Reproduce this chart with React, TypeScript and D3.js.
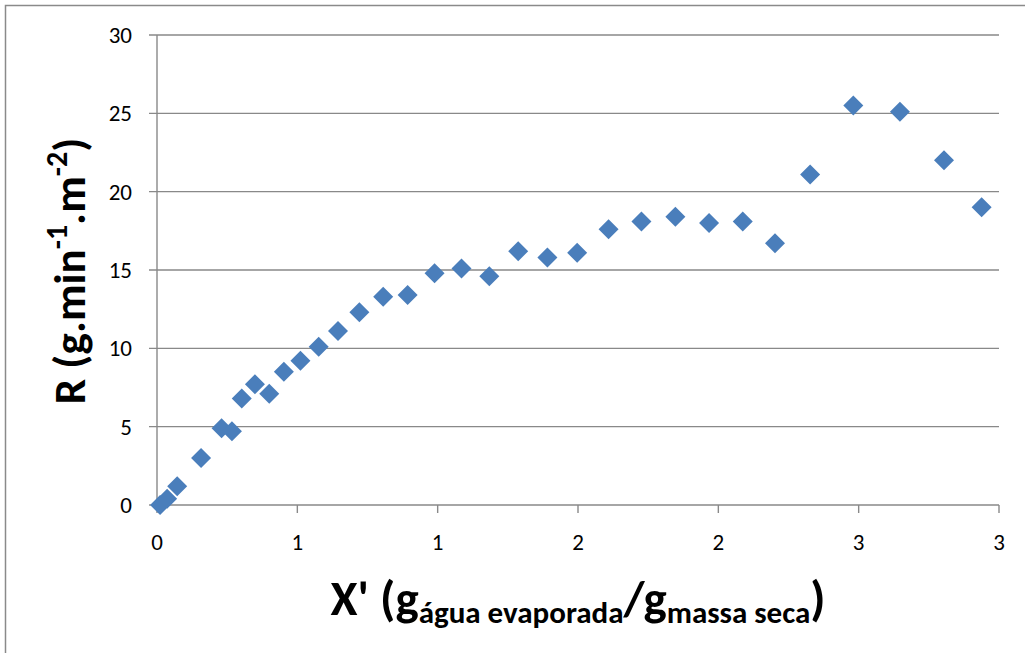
import React from 'react';
import * as d3 from 'd3';

// X' (g água evaporada / g massa seca)
const xValues = [
    0.011, 0.036, 0.072, 0.157, 0.23, 0.267, 0.302, 0.349, 0.4, 0.452,
    0.511, 0.576, 0.645, 0.721, 0.806, 0.893, 0.989, 1.085, 1.184, 1.287,
    1.391, 1.497, 1.609, 1.726, 1.847, 1.967, 2.087, 2.202, 2.327, 2.481,
    2.647, 2.804, 2.938
];
// R (g.min-1.m-2)
const rValues = [
    0.0, 0.4, 1.2, 3.0, 4.9, 4.7, 6.8, 7.7, 7.1, 8.5,
    9.2, 10.1, 11.1, 12.3, 13.3, 13.4, 14.8, 15.1, 14.6, 16.2,
    15.8, 16.1, 17.6, 18.1, 18.4, 18.0, 18.1, 16.7, 21.1, 25.5,
    25.1, 22.0, 19.0
];
const xTicks = [0, 0.5, 1, 1.5, 2, 2.5, 3];
const yTicks = [0, 5, 10, 15, 20, 25, 30];

const W = 1025;
const H = 653;
const plot = { left: 157, right: 999, top: 35, bottom: 505 };
const font = 'Carlito, Calibri, Lato, sans-serif';
const gridColor = '#898989';
const markerColor = '#4a7ebb';

export default function App() {
    const x = d3.scaleLinear().domain([0, 3]).range([plot.left, plot.right]);
    const y = d3.scaleLinear().domain([0, 30]).range([plot.bottom, plot.top]);
    const fmt = (v: number) => d3.format('.0f')(v);
    const diamond = (r: number) => `M0,${-r}L${r},0L0,${r}L${-r},0Z`;

    return (
        <svg width={W} height={H} style={{ position: 'absolute', left: 0, top: 0, background: '#fff' }}>
            <rect x={5.5} y={5.5} width={W + 10} height={H + 10} fill="#fff" stroke="#8a8a8a" strokeWidth={1.5} />

            {yTicks.map(t => (
                <g key={'y' + t}>
                    {t > 0 && (
                        <line x1={plot.left - 8} x2={plot.right} y1={y(t)} y2={y(t)} stroke={gridColor} strokeWidth={1.4} />
                    )}
                    {t === 0 && (
                        <line x1={plot.left - 8} x2={plot.left} y1={y(t)} y2={y(t)} stroke={gridColor} strokeWidth={1.4} />
                    )}
                    <text x={132} y={y(t)} dy="0.35em" textAnchor="end" fontFamily={font} fontSize={23} fill="#000">
                        {t}
                    </text>
                </g>
            ))}

            <line x1={plot.left} x2={plot.left} y1={plot.top} y2={plot.bottom} stroke={gridColor} strokeWidth={1.4} />
            <line x1={plot.left} x2={plot.right} y1={plot.bottom} y2={plot.bottom} stroke={gridColor} strokeWidth={1.4} />

            {xTicks.map(t => (
                <g key={'x' + t}>
                    <line x1={x(t)} x2={x(t)} y1={plot.bottom} y2={plot.bottom + 8} stroke={gridColor} strokeWidth={1.4} />
                    <text x={x(t)} y={550} textAnchor="middle" fontFamily={font} fontSize={23} fill="#000">
                        {fmt(t)}
                    </text>
                </g>
            ))}

            {xValues.map((v, i) => (
                <path key={i} d={diamond(10)} transform={`translate(${x(v)},${y(rValues[i])})`} fill={markerColor} />
            ))}

            <text x={578} y={615} textAnchor="middle" fontFamily={font} fontWeight="bold" fontSize={49} fill="#000">
                X' (g<tspan fontSize={31} dy={8}>água evaporada</tspan>
                <tspan dy={-8}>/g</tspan>
                <tspan fontSize={31} dy={8}>massa seca</tspan>
                <tspan dy={-8}>)</tspan>
            </text>

            <text transform="translate(85,271) rotate(-90)" textAnchor="middle" fontFamily={font} fontWeight="bold" fontSize={45} fill="#000">
                R (g.min<tspan fontSize={30} dy={-18}>-1</tspan>
                <tspan dy={18}>.m</tspan>
                <tspan fontSize={30} dy={-18}>-2</tspan>
                <tspan dy={18}>)</tspan>
            </text>
        </svg>
    );
}
